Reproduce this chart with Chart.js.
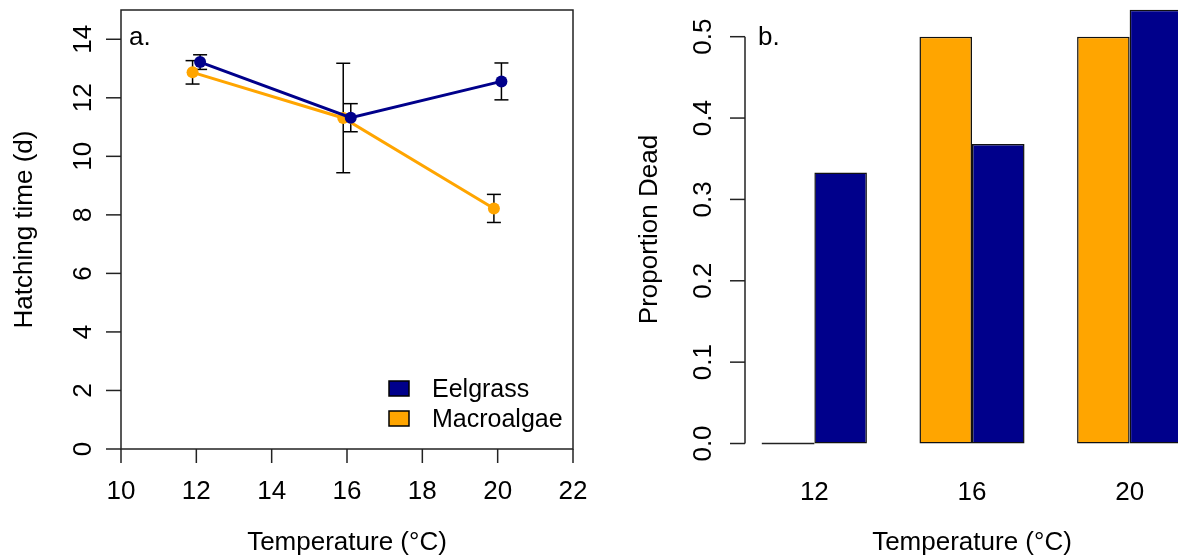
<!DOCTYPE html>
<html>
<head>
<meta charset="utf-8">
<script src="https://cdn.jsdelivr.net/npm/chart.js@4.4.0/dist/chart.umd.min.js"></script>
<style>
  html, body { margin: 0; padding: 0; background: #fff; }
  body { width: 1178px; height: 559px; overflow: hidden; position: relative; }
  #hatchChart { position: absolute; left: 0; top: 0; }
  #deadChart { position: absolute; left: 600px; top: 0; }
</style>
</head>
<body>
<canvas id="hatchChart" width="600" height="559"></canvas>
<canvas id="deadChart" width="640" height="559"></canvas>
<script>
// Painel a: tempo de eclosão (média ± erro)
const temps = [12, 16, 20];
const eelgrassHatch = [13.22, 11.32, 12.56];
const eelgrassSE = [0.25, 0.48, 0.63];
const macroHatch = [12.87, 11.31, 8.22];
const macroSE = [0.40, 1.87, 0.48];
const hatchXTicks = [10, 12, 14, 16, 18, 20, 22];
const hatchYTicks = [0, 2, 4, 6, 8, 10, 12, 14];

// Painel b: proporção de mortos
const tempLabels = ['12', '16', '20'];
const macroDead = [0.0, 0.5, 0.5];
const eelgrassDead = [0.333, 0.368, 0.533];
const deadYTicks = [0, 0.1, 0.2, 0.3, 0.4, 0.5];

const NAVY = '#00008B';
const ORANGE = '#FFA500';
const FONT = '26px "Liberation Sans", Arial, sans-serif';
const LEGEND_FONT = '25px "Liberation Sans", Arial, sans-serif';
const DODGE = 0.1;

// posição do grupo no eixo do barplot (barra 1, espaço 1)
const groupPos = i => i * 3 + 2;

function line(ctx, x1, y1, x2, y2) {
    ctx.beginPath();
    ctx.moveTo(x1, y1);
    ctx.lineTo(x2, y2);
    ctx.stroke();
}

function rotatedText(ctx, text, x, y) {
    ctx.save();
    ctx.translate(x, y);
    ctx.rotate(-Math.PI / 2);
    ctx.textAlign = 'center';
    ctx.textBaseline = 'alphabetic';
    ctx.fillText(text, 0, 0);
    ctx.restore();
}

const hatchAxes = {
    id: 'hatchAxes',
    beforeDatasetsDraw(chart) {
        // barras de erro desenhadas por baixo das linhas
        const ctx = chart.ctx, xs = chart.scales.x, ys = chart.scales.y;
        ctx.save();
        ctx.strokeStyle = '#000';
        ctx.lineWidth = 1.5;
        chart.data.datasets.forEach(ds => {
            ds.data.forEach((p, i) => {
                const x = xs.getPixelForValue(p.x);
                const top = ys.getPixelForValue(p.y + ds.se[i]);
                const bot = ys.getPixelForValue(p.y - ds.se[i]);
                line(ctx, x, top, x, bot);
                line(ctx, x - 7, top, x + 7, top);
                line(ctx, x - 7, bot, x + 7, bot);
            });
        });
        ctx.restore();
    },
    afterDraw(chart) {
        const ctx = chart.ctx, xs = chart.scales.x, ys = chart.scales.y;
        const { left, right, top, bottom } = chart.chartArea;
        ctx.save();
        ctx.strokeStyle = '#222';
        ctx.lineWidth = 1.5;
        ctx.strokeRect(left, top, right - left, bottom - top);
        ctx.fillStyle = '#000';
        ctx.font = FONT;

        hatchYTicks.forEach(v => {
            const y = ys.getPixelForValue(v);
            line(ctx, left - 15, y, left, y);
            rotatedText(ctx, String(v), left - 30, y);
        });
        ctx.textAlign = 'center';
        hatchXTicks.forEach(v => {
            const x = xs.getPixelForValue(v);
            line(ctx, x, bottom, x, bottom + 14);
            ctx.fillText(String(v), x, bottom + 50);
        });
        ctx.fillText('Temperature (\u00B0C)', (left + right) / 2, bottom + 101);
        rotatedText(ctx, 'Hatching time (d)', left - 89, (top + bottom) / 2);

        ctx.textAlign = 'left';
        ctx.fillText('a.', left + 8, top + 35);

        // legenda
        ctx.font = LEGEND_FONT;
        const items = [['Eelgrass', NAVY], ['Macroalgae', ORANGE]];
        items.forEach(([name, col], i) => {
            const y0 = bottom - 68 + i * 30;
            ctx.fillStyle = col;
            ctx.fillRect(right - 184, y0, 20, 15);
            ctx.strokeStyle = '#000';
            ctx.strokeRect(right - 184, y0, 20, 15);
            ctx.fillStyle = '#000';
            ctx.fillText(name, right - 141, y0 + 16);
        });
        ctx.restore();
    }
};

new Chart(document.getElementById('hatchChart'), {
    type: 'scatter',
    data: {
        datasets: [{
            label: 'Eelgrass',
            data: temps.map((t, i) => ({ x: t + DODGE, y: eelgrassHatch[i] })),
            se: eelgrassSE,
            showLine: true,
            borderColor: NAVY,
            backgroundColor: NAVY,
            borderWidth: 3,
            pointRadius: 6,
            pointBorderWidth: 0
        }, {
            label: 'Macroalgae',
            data: temps.map((t, i) => ({ x: t - DODGE, y: macroHatch[i] })),
            se: macroSE,
            showLine: true,
            borderColor: ORANGE,
            backgroundColor: ORANGE,
            borderWidth: 3,
            pointRadius: 6,
            pointBorderWidth: 0
        }]
    },
    options: {
        responsive: false,
        animation: false,
        layout: { padding: { left: 121, right: 27, top: 10, bottom: 110 } },
        plugins: { legend: { display: false }, tooltip: { enabled: false } },
        scales: {
            x: { type: 'linear', min: 10, max: 22, display: false },
            y: { min: 0, max: 15, display: false }
        }
    },
    plugins: [hatchAxes]
});

const deadAxes = {
    id: 'deadAxes',
    afterDatasetsDraw(chart) {
        // barras de valor zero aparecem só como uma linha
        const ctx = chart.ctx;
        ctx.save();
        ctx.strokeStyle = '#222';
        ctx.lineWidth = 1.5;
        chart.data.datasets.forEach((ds, d) => {
            chart.getDatasetMeta(d).data.forEach((bar, i) => {
                if (ds.data[i].y !== 0) return;
                const { x, y, width } = bar.getProps(['x', 'y', 'width'], true);
                line(ctx, x - width / 2, y, x + width / 2, y);
            });
        });
        ctx.restore();
    },
    afterDraw(chart) {
        const ctx = chart.ctx, xs = chart.scales.x, ys = chart.scales.y;
        const { left, right, top, bottom } = chart.chartArea;
        ctx.save();
        ctx.strokeStyle = '#222';
        ctx.lineWidth = 1.5;
        ctx.fillStyle = '#000';
        ctx.font = FONT;

        line(ctx, left, ys.getPixelForValue(0), left, ys.getPixelForValue(0.5));
        deadYTicks.forEach(v => {
            const y = ys.getPixelForValue(v);
            line(ctx, left - 15, y, left, y);
            rotatedText(ctx, v.toFixed(1), left - 34, y);
        });
        ctx.textAlign = 'center';
        tempLabels.forEach((t, i) => {
            ctx.fillText(t, xs.getPixelForValue(groupPos(i)), 500);
        });
        ctx.fillText('Temperature (\u00B0C)', (left + right) / 2, 550);
        rotatedText(ctx, 'Proportion Dead', left - 88, (top + bottom) / 2 - 1);

        ctx.textAlign = 'left';
        ctx.fillText('b.', left + 13, ys.getPixelForValue(0.5) + 8);
        ctx.restore();
    }
};

new Chart(document.getElementById('deadChart'), {
    type: 'bar',
    data: {
        datasets: [{
            label: 'Macroalgae',
            data: tempLabels.map((t, i) => ({ x: groupPos(i), y: macroDead[i] })),
            backgroundColor: ORANGE
        }, {
            label: 'Eelgrass',
            data: tempLabels.map((t, i) => ({ x: groupPos(i), y: eelgrassDead[i] })),
            backgroundColor: NAVY
        }]
    },
    options: {
        responsive: false,
        animation: false,
        layout: { padding: { left: 145, right: 41, top: 0, bottom: 98 } },
        datasets: {
            bar: {
                categoryPercentage: 2 / 3,
                barPercentage: 1,
                borderWidth: 1.5,
                borderColor: '#111',
                borderSkipped: false
            }
        },
        plugins: { legend: { display: false }, tooltip: { enabled: false } },
        scales: {
            x: {
                type: 'linear', min: 0.68, max: 9.32, offset: false, display: false,
                afterBuildTicks: s => { s.ticks = tempLabels.map((t, i) => ({ value: groupPos(i) })); }
            },
            y: { min: -0.0215, max: 0.5451, display: false }
        }
    },
    plugins: [deadAxes]
});
</script>
</body>
</html>
